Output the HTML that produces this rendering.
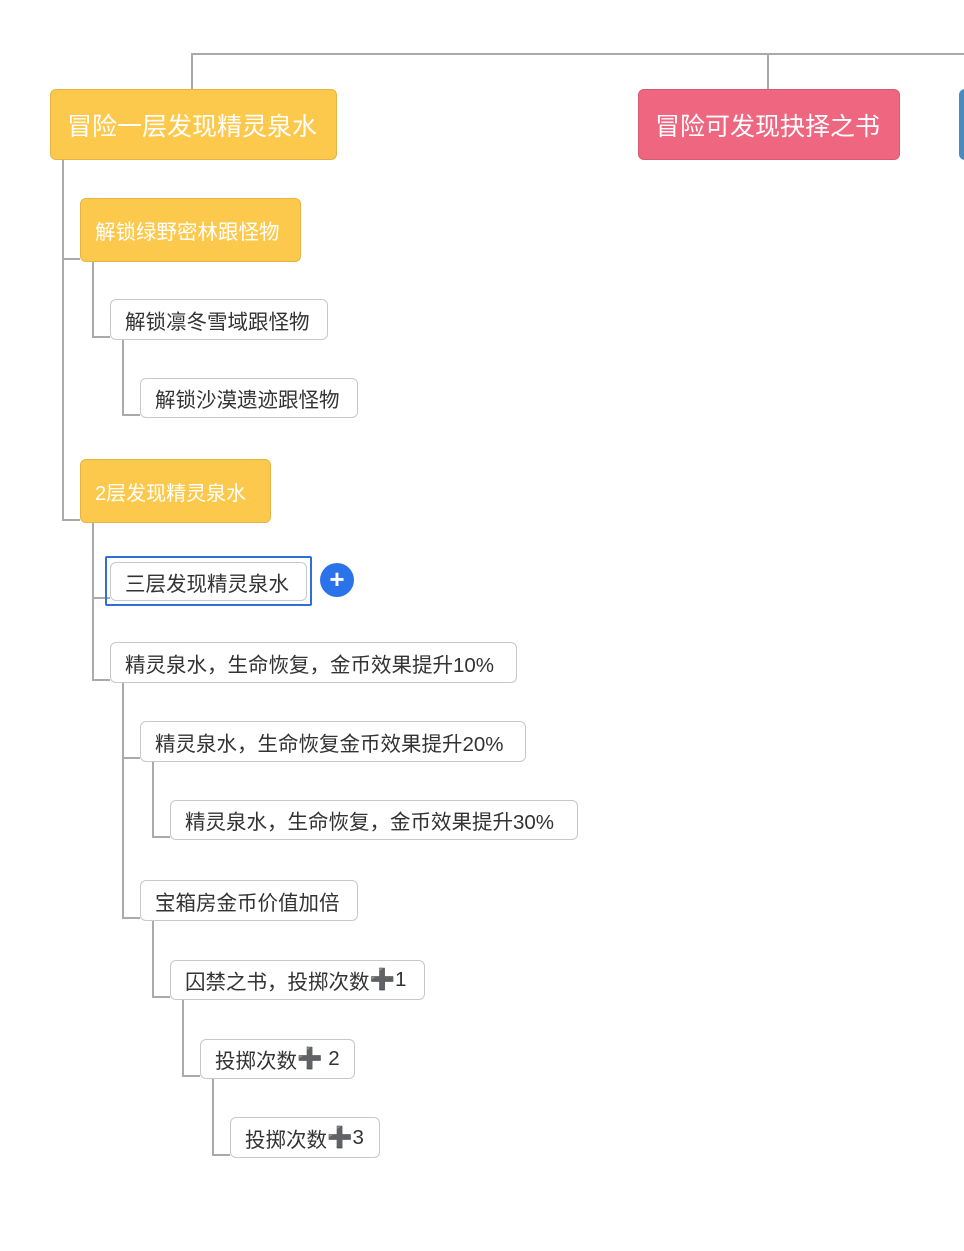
<!DOCTYPE html>
<html><head><meta charset="utf-8"><style>
body{margin:0;width:964px;height:1251px;background:#fff;position:relative;overflow:hidden;font-family:"Liberation Sans","Noto Sans CJK SC",sans-serif}
.l{position:absolute;background:#aaa}
.n{position:absolute;box-sizing:border-box;display:flex;align-items:center;white-space:nowrap;border-radius:6px;padding-left:14px}
.y{background:#FCC94D;border:1px solid #e6b445;color:#fff}
.w{background:#fff;border:1px solid #c8c8c8;color:#333;font-size:20.5px}
</style></head><body>
<div class="l" style="left:192px;top:53px;width:772px;height:2px"></div>
<div class="l" style="left:191px;top:53px;width:2px;height:36px"></div>
<div class="l" style="left:767px;top:53px;width:2px;height:36px"></div>
<div class="l" style="left:62px;top:159px;width:2px;height:362px"></div>
<div class="l" style="left:62px;top:258px;width:18px;height:2px"></div>
<div class="l" style="left:62px;top:519px;width:18px;height:2px"></div>
<div class="l" style="left:92px;top:261px;width:2px;height:77px"></div>
<div class="l" style="left:92px;top:336px;width:18px;height:2px"></div>
<div class="l" style="left:122px;top:339px;width:2px;height:77px"></div>
<div class="l" style="left:122px;top:414px;width:18px;height:2px"></div>
<div class="l" style="left:92px;top:522px;width:2px;height:159px"></div>
<div class="l" style="left:92px;top:597px;width:18px;height:2px"></div>
<div class="l" style="left:92px;top:679px;width:18px;height:2px"></div>
<div class="l" style="left:122px;top:682px;width:2px;height:237px"></div>
<div class="l" style="left:122px;top:757px;width:18px;height:2px"></div>
<div class="l" style="left:122px;top:917px;width:18px;height:2px"></div>
<div class="l" style="left:152px;top:761px;width:2px;height:77px"></div>
<div class="l" style="left:152px;top:836px;width:18px;height:2px"></div>
<div class="l" style="left:152px;top:920px;width:2px;height:78px"></div>
<div class="l" style="left:152px;top:996px;width:18px;height:2px"></div>
<div class="l" style="left:182px;top:999px;width:2px;height:78px"></div>
<div class="l" style="left:182px;top:1075px;width:18px;height:2px"></div>
<div class="l" style="left:212px;top:1078px;width:2px;height:78px"></div>
<div class="l" style="left:212px;top:1154px;width:18px;height:2px"></div>

<div class="n y" style="left:50px;top:89px;width:287px;height:71px;font-size:25px;padding-left:16px">冒险一层发现精灵泉水</div>
<div class="n" style="left:638px;top:89px;width:262px;height:71px;font-size:25px;padding-left:16px;background:#EE6680;border:1px solid #d85a72;color:#fff">冒险可发现抉择之书</div>
<div class="n" style="left:959px;top:89px;width:40px;height:71px;background:#4A8BBF"></div>
<div class="n y" style="left:80px;top:198px;width:221px;height:64px;font-size:20.5px">解锁绿野密林跟怪物</div>
<div class="n w" style="left:110px;top:299px;width:218px;height:41px">解锁凛冬雪域跟怪物</div>
<div class="n w" style="left:140px;top:378px;width:218px;height:40px">解锁沙漠遗迹跟怪物</div>
<div class="n y" style="left:80px;top:459px;width:191px;height:64px;font-size:20px">2层发现精灵泉水</div>
<div style="position:absolute;left:105px;top:556px;width:203px;height:46px;border:2px solid #2E6FD8;border-radius:2px"></div>
<div class="n w" style="left:110px;top:562px;width:197px;height:39px">三层发现精灵泉水</div>
<div style="position:absolute;left:320px;top:563px;width:34px;height:34px;border-radius:50%;background:#2A73E8;color:#fff;font-size:26px;font-weight:bold;line-height:33px;text-align:center">+</div>
<div class="n w" style="left:110px;top:642px;width:407px;height:41px">精灵泉水，生命恢复，金币效果提升10%</div>
<div class="n w" style="left:140px;top:721px;width:386px;height:41px">精灵泉水，生命恢复金币效果提升20%</div>
<div class="n w" style="left:170px;top:800px;width:408px;height:40px">精灵泉水，生命恢复，金币效果提升30%</div>
<div class="n w" style="left:140px;top:880px;width:218px;height:41px">宝箱房金币价值加倍</div>
<div class="n w" style="left:170px;top:960px;width:255px;height:40px">囚禁之书，投掷次数<b style="color:#444">➕</b>1</div>
<div class="n w" style="left:200px;top:1039px;width:155px;height:40px">投掷次数<b style="color:#444">➕</b>&nbsp;2</div>
<div class="n w" style="left:230px;top:1117px;width:150px;height:41px">投掷次数<b style="color:#444">➕</b>3</div>
</body></html>
